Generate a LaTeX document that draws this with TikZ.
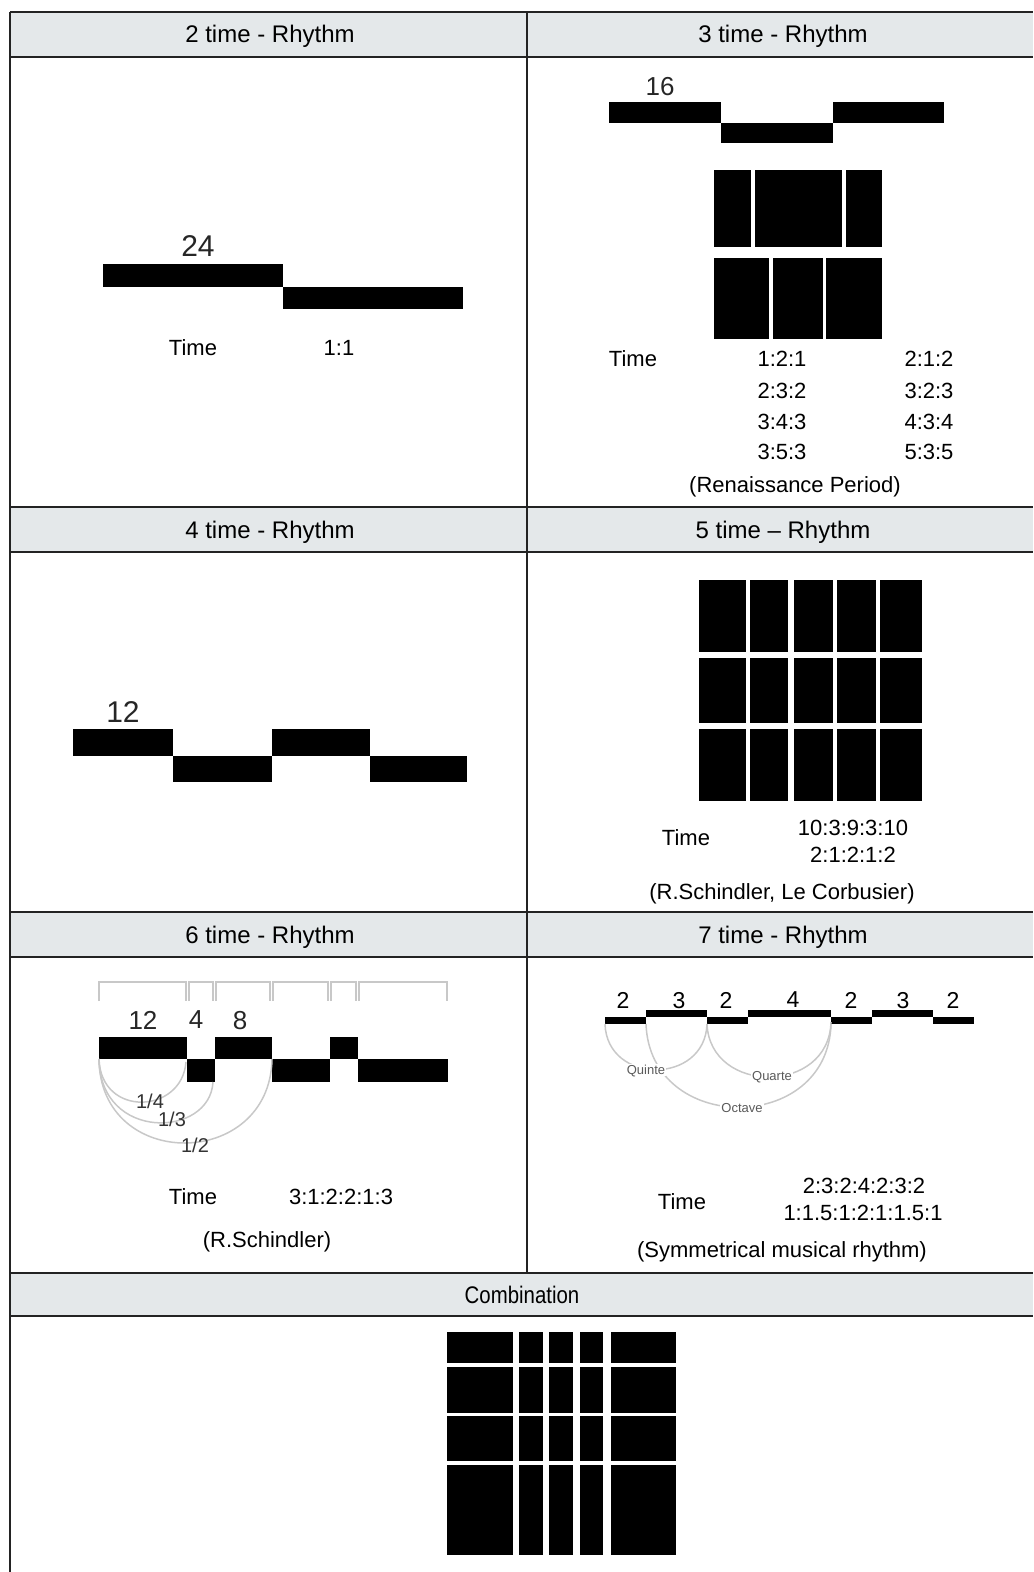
\documentclass[tikz,border=0pt]{standalone}
\usepackage{fontspec}
\setmainfont{Liberation Sans}
\definecolor{hdrfill}{RGB}{228,232,234}
\definecolor{tblline}{RGB}{35,35,35}
\definecolor{arcgray}{RGB}{200,200,200}
\definecolor{lblgray}{RGB}{90,90,90}
\newcommand\blk[4]{\fill[black] (#1,#2) rectangle (#3,#4);}
\begin{document}
\begin{tikzpicture}[x=0.5pt,y=-0.5pt,
  tbl/.style={draw=tblline,line width=1pt},
  hdr/.style={inner sep=0pt,text depth=0pt,font=\fontsize{12}{14}\selectfont},
  txt/.style={inner sep=0pt,text depth=0pt,font=\fontsize{11}{13}\selectfont},
  bignum/.style={inner sep=0pt,text depth=0pt,font=\fontsize{15}{17}\selectfont,text=black!85},
  midnum/.style={inner sep=0pt,text depth=0pt,font=\fontsize{13}{15}\selectfont,text=black!85},
  smallnum/.style={inner sep=0pt,text depth=0pt,font=\fontsize{11.5}{13}\selectfont},
  arcline/.style={draw=arcgray,line width=0.75pt},
  brk/.style={draw=arcgray,line width=0.8pt},
  tinylbl/.style={inner sep=0.5pt,text depth=0pt,font=\fontsize{6.5}{8}\selectfont,text=lblgray},
  fraclbl/.style={inner sep=0.5pt,text depth=0pt,font=\fontsize{10}{12}\selectfont,text=black!80}]
\useasboundingbox (0,0) rectangle (1033,1572);
% ---------- table ----------
\fill[hdrfill] (10,12) rectangle (1033,57);
\fill[hdrfill] (10,507) rectangle (1033,552);
\fill[hdrfill] (10,912) rectangle (1033,957);
\fill[hdrfill] (10,1273) rectangle (1033,1316);
\foreach \yy in {12,57,507,552,912,957,1273,1316}{
  \draw[tbl] (10,\yy) -- (1033,\yy);}
\draw[tbl] (10,12) -- (10,1572);
\draw[tbl] (527,12) -- (527,1273);
% headers
\node[hdr] (h2) at (270,34) {2 time - Rhythm};
\node[hdr] (h3) at (783,34) {3 time - Rhythm};
\node[hdr] (h4) at (270,530) {4 time - Rhythm};
\node[hdr] (h5) at (783,530) {5 time -- Rhythm};
\node[hdr] (h6) at (270,935) {6 time - Rhythm};
\node[hdr] (h7) at (783,935) {7 time - Rhythm};
\node[hdr] (hc) at (522,1295) {\scalebox{0.85}[1]{Combination}};
% ---------- 2 time ----------
\blk{103}{264}{283}{287}
\blk{283}{287}{463}{309}
\node[bignum] (n24) at (198,246) {24};
\node[txt] (t2) at (193,348) {Time};
\node[txt] (r2) at (339,348) {1:1};
% ---------- 3 time ----------
\blk{609}{102}{721}{123}
\blk{721}{123}{833}{143}
\blk{833}{102}{944}{123}
\node[midnum] (n16) at (660,86) {16};
\blk{714}{170}{751}{247}
\blk{755}{170}{842}{247}
\blk{846}{170}{882}{247}
\blk{714}{258}{769}{339}
\blk{773}{258}{823}{339}
\blk{826}{258}{882}{339}
\node[txt] (t3) at (633,359) {Time};
\node[txt] (r3a) at (782,359) {1:2:1};
\node[txt] (r3b) at (782,391) {2:3:2};
\node[txt] (r3c) at (782,422) {3:4:3};
\node[txt] (r3d) at (782,452) {3:5:3};
\node[txt] (r3e) at (929,359) {2:1:2};
\node[txt] (r3f) at (929,391) {3:2:3};
\node[txt] (r3g) at (929,422) {4:3:4};
\node[txt] (r3h) at (929,452) {5:3:5};
\node[txt] (s3) at (795,485) {(Renaissance Period)};
% ---------- 4 time ----------
\blk{73}{729}{173}{756}
\blk{173}{756}{272}{782}
\blk{272}{729}{370}{756}
\blk{370}{756}{467}{782}
\node[bignum] (n12) at (123,712) {12};
% ---------- 5 time ----------
\foreach \xa/\xb in {699/746,750/788,794/833,837/876,880/922}{
  \foreach \ya/\yb in {580/652,658/723,729/801}{
    \blk{\xa}{\ya}{\xb}{\yb}}}
\node[txt] (t5) at (686,838) {Time};
\node[txt] (r5a) at (853,828) {10:3:9:3:10};
\node[txt] (r5b) at (853,855) {2:1:2:1:2};
\node[txt] (s5) at (782,892) {(R.Schindler, Le Corbusier)};
% ---------- 6 time ----------
\foreach \xa/\xb in {99/186,189/213,216/270,273/328,331/356,359/447}{
  \draw[brk] (\xa,1001) -- (\xa,982) -- (\xb,982) -- (\xb,1001);}
\blk{99}{1037}{187}{1059}
\blk{187}{1059}{215}{1082}
\blk{215}{1037}{272}{1059}
\blk{272}{1059}{330}{1082}
\blk{330}{1037}{358}{1059}
\blk{358}{1059}{448}{1082}
\node[midnum] (n6a) at (143,1020) {12};
\node[midnum] (n6b) at (196,1020) {4};
\node[midnum] (n6c) at (240,1020) {8};
\coordinate (a6s) at (99,1059);
\coordinate (a6e1) at (186,1062);
\coordinate (a6e2) at (213,1082);
\coordinate (a6e3) at (272,1059);
\draw[arcline] (a6s) .. controls (101,1118) and (182,1114) .. (a6e1);
\draw[arcline] (a6s) .. controls (100,1142) and (210,1138) .. (a6e2);
\draw[arcline] (a6s) .. controls (100,1172) and (270,1170) .. (a6e3);
\node[fraclbl] (f4) at (150,1101) {1/4};
\node[fraclbl] (f3) at (172,1119) {1/3};
\node[fraclbl] (f2) at (195,1145) {1/2};
\node[txt] (t6) at (193,1197) {Time};
\node[txt] (r6) at (341,1197) {3:1:2:2:1:3};
\node[txt] (s6) at (267,1240) {(R.Schindler)};
% ---------- 7 time ----------
\blk{605}{1017}{646}{1024}
\blk{646}{1010}{707}{1017}
\blk{707}{1017}{748}{1024}
\blk{748}{1010}{831}{1017}
\blk{831}{1017}{872}{1024}
\blk{872}{1010}{933}{1017}
\blk{933}{1017}{974}{1024}
\foreach \xx/\lab/\nm in {623/2/a,679/3/b,726/2/c,793/4/d,851/2/e,903/3/f,953/2/g}{
  \node[smallnum] (n7\nm) at (\xx,1000) {\lab};}
\coordinate (q1s) at (605,1024);
\coordinate (q1e) at (707,1024);
\coordinate (q2s) at (646,1024);
\coordinate (q2e) at (831,1024);
\coordinate (q3s) at (707,1024);
\coordinate (q3e) at (831,1022);
\draw[arcline] (q1s) .. controls (607,1085) and (705,1085) .. (q1e);
\draw[arcline] (q2s) .. controls (650,1135) and (828,1135) .. (q2e);
\draw[arcline] (q3s) .. controls (710,1095) and (829,1095) .. (q3e);
\node[tinylbl,fill=white] (quinte) at (646,1070) {Quinte};
\node[tinylbl,fill=white] (quarte) at (772,1076) {Quarte};
\node[tinylbl,fill=white] (octave) at (742,1108) {Octave};
\node[txt] (t7) at (682,1202) {Time};
\node[txt] (r7a) at (864,1186) {2:3:2:4:2:3:2};
\node[txt] (r7b) at (863,1213) {1:1.5:1:2:1:1.5:1};
\node[txt] (s7) at (782,1250) {(Symmetrical musical rhythm)};
% ---------- combination ----------
\foreach \xa/\xb in {447/513,519/543,549/573,580/603,611/676}{
  \foreach \ya/\yb in {1332/1363,1367/1413,1416/1461,1465/1555}{
    \blk{\xa}{\ya}{\xb}{\yb}}}
\end{tikzpicture}
\end{document}
